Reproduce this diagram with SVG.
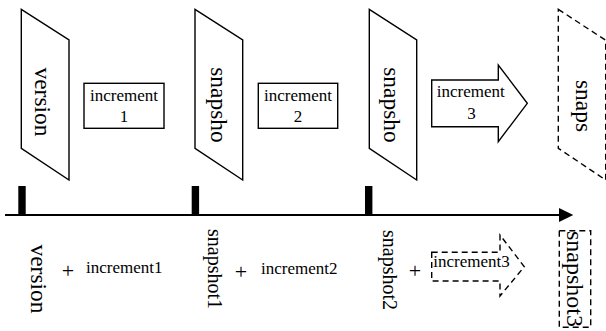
<svg xmlns="http://www.w3.org/2000/svg" width="606" height="331" viewBox="0 0 606 331" font-family="Liberation Serif, Times New Roman, serif">
<style>
.sh{fill:#fff;stroke:#000;stroke-width:1.4}
.ds{fill:none;stroke:#000;stroke-width:1.4;stroke-dasharray:6,4}
text{font-family:'Liberation Serif','Times New Roman',serif;fill:#000}
.big{font-size:23.5px}
.mid{font-size:17px}
.lbl{font-size:20px}
.pl{font-size:22px}
</style>
<rect width="606" height="331" fill="#fff"/>
<g id="version">
<polygon class="sh" points="21.3,9.3 69,40 69,180 21.3,148.3"/>
<text class="big" text-anchor="middle" transform="translate(35,102) rotate(90)">version</text>
</g>
<g id="increment1">
<rect class="sh" x="84" y="83.3" width="80" height="45"/>
<text class="mid" text-anchor="middle" x="124" y="100.7">increment</text>
<text class="mid" text-anchor="middle" x="124" y="121.7">1</text>
</g>
<g id="snapshot1">
<polygon class="sh" points="195,9.3 242.7,40 242.7,180 195,148.3"/>
<text class="big" text-anchor="middle" transform="translate(210.5,105) rotate(90)">snapsho</text>
</g>
<g id="increment2">
<rect class="sh" x="258.3" y="83.3" width="79.4" height="45"/>
<text class="mid" text-anchor="middle" x="298" y="100.7">increment</text>
<text class="mid" text-anchor="middle" x="298" y="121.7">2</text>
</g>
<g id="snapshot2">
<polygon class="sh" points="369.3,9.3 416.7,40 416.7,180 369.3,148.3"/>
<text class="big" text-anchor="middle" transform="translate(384,105) rotate(90)">snapsho</text>
</g>
<g id="increment3">
<polygon class="sh" points="431.7,80 498.3,80 498.3,65 527.3,103.3 498.3,141.7 498.3,126.7 431.7,126.7"/>
<text class="mid" text-anchor="middle" x="470.8" y="96.7">increment</text>
<text class="mid" text-anchor="middle" x="471.5" y="119">3</text>
</g>
<g id="snapshot3">
<polygon class="ds" points="558.3,9.3 605.7,40.3 605.7,180 558.3,148.3"/>
<text class="big" text-anchor="middle" transform="translate(576,106) rotate(90)">snaps</text>
</g>
<g id="connectors">
<line x1="5" y1="215" x2="561" y2="215" stroke="#000" stroke-width="2"/>
<polygon points="559,208 573.3,215 559,222" fill="#000"/>
<rect x="18.3" y="186" width="7.4" height="29" fill="#000"/>
<rect x="191.7" y="186" width="7.4" height="29" fill="#000"/>
<rect x="365" y="186" width="7.4" height="29" fill="#000"/>
</g>
<g id="formula">
<text class="big" text-anchor="middle" transform="translate(30.5,279) rotate(90)">version</text>
<text class="pl" text-anchor="middle" x="68" y="278">+</text>
<text class="mid" x="86" y="272.5">increment1</text>
<text class="lbl" text-anchor="middle" transform="translate(208,269) rotate(90)">snapshot1</text>
<text class="pl" text-anchor="middle" x="241" y="279">+</text>
<text class="mid" x="261" y="273.5">increment2</text>
<text class="lbl" text-anchor="middle" transform="translate(383,270) rotate(90)">snapshot2</text>
<text class="pl" text-anchor="middle" x="415" y="278">+</text>
<g id="increment3-next">
<polygon class="ds" points="431.7,252.3 500,252.3 500,235 524.3,266.7 500,296 500,281 431.7,281"/>
<text class="mid" x="433.3" y="267">increment3</text>
</g>
<g id="snapshot3-next">
<rect class="ds" x="559.3" y="230.7" width="31.4" height="96.6"/>
<text font-size="24px" text-anchor="middle" transform="translate(567,279) rotate(90)">snapshot3</text>
</g>
</g>
</svg>
